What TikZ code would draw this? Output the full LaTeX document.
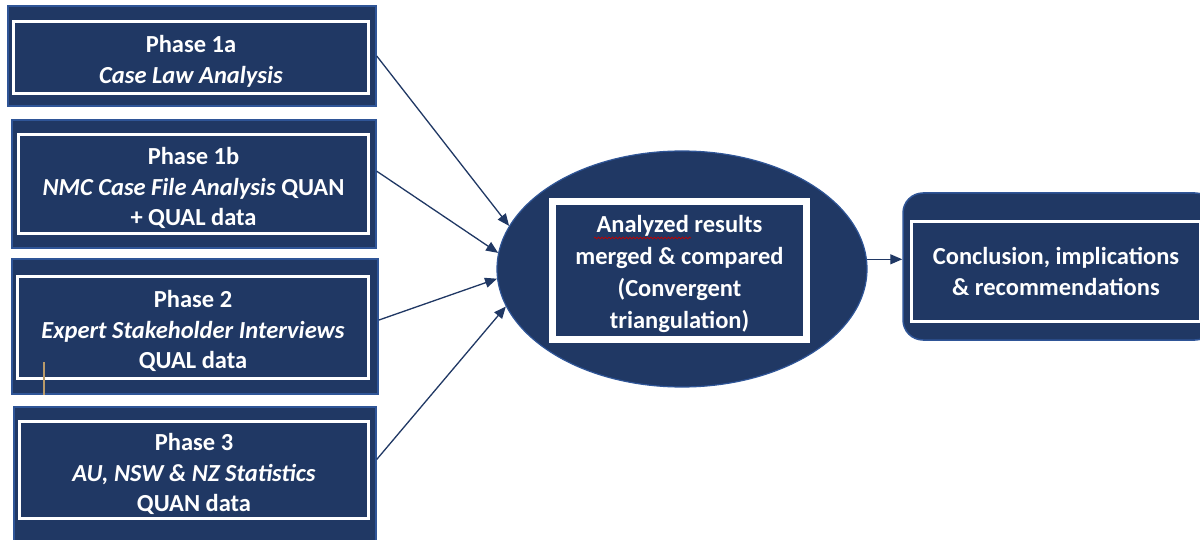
\documentclass[tikz,border=0pt]{standalone}
\usepackage{fontspec}
\setmainfont{Carlito}
\usetikzlibrary{arrows.meta,shapes.geometric,decorations.pathmorphing}
\definecolor{navy}{HTML}{203864}
\definecolor{edgeblue}{HTML}{2F5597}
\definecolor{tanline}{HTML}{B89A6A}
\newcommand{\toplift}{\rule{0pt}{24.5pt}}
\tikzset{
  outerbox/.style={draw=edgeblue, line width=1.5pt, fill=navy, inner sep=0pt},
  innerbox/.style={draw=white, line width=3pt, fill=navy, text=white, align=center, inner sep=0pt,
     font=\bfseries\fontsize{24.5}{30.5}\selectfont},
  conn/.style={draw=navy, line width=1.3pt, -{Triangle[length=12pt,width=10pt]}},
}
\begin{document}
\begin{tikzpicture}[x=1pt,y=-1pt]
\useasboundingbox (0,0) rectangle (1200,540);
\clip (0,0) rectangle (1200,540);
\fill[white] (0,0) rectangle (1200,540);

% left boxes
\node[outerbox, minimum width=368pt, minimum height=100pt] (o1a) at (192,56) {};
\node[innerbox, minimum width=355pt, minimum height=72pt] (b1a) at (191,57.5)
  {\toplift Phase 1a\\\textit{Case Law Analysis}};

\node[outerbox, minimum width=364pt, minimum height=128pt] (o1b) at (194,184) {};
\node[innerbox, minimum width=350pt, minimum height=99pt] (b1b) at (193.5,184)
  {\rule{0pt}{26pt}Phase 1b\\\textit{NMC Case File Analysis} QUAN\\+ QUAL data};

\node[outerbox, minimum width=366pt, minimum height=135pt] (o2) at (195,326.5) {};
\node[innerbox, minimum width=351pt, minimum height=102pt] (b2) at (193,327.5)
  {\toplift Phase 2\\\textit{Expert Stakeholder Interviews}\\QUAL data};

\node[outerbox, minimum width=362pt, minimum height=143pt] (o3) at (195,478.5) {};
\node[innerbox, minimum width=349pt, minimum height=97pt] (b3) at (194,470)
  {\rule{0pt}{25.5pt}Phase 3\\\textit{AU, NSW \& NZ Statistics}\\QUAN data};

\coordinate (t1) at (44,362);
\coordinate (t2) at (44,395);
\draw[tanline, line width=1.2pt] (t1) -- (t2);

% ellipse
\node[ellipse, draw=edgeblue, line width=1.2pt, fill=navy, minimum width=370pt, minimum height=236pt, inner sep=0pt] (ell) at (682,269) {};
\node[innerbox, line width=7pt, minimum width=254pt, minimum height=138pt,
      font=\bfseries\fontsize{24.5}{32}\selectfont] (bm) at (679.5,270.5)
  {\rule{0pt}{25pt}Analyzed results\\merged \& compared\\(Convergent\\triangulation)};
\coordinate (sq1) at (594,238);
\coordinate (sq2) at (691,238);
\draw[red!75!black, line width=0.7pt, decorate, decoration={snake, amplitude=0.9pt, segment length=3.5pt}] (sq1) -- (sq2);

% right box
\node[outerbox, rounded corners=20pt, minimum width=312pt, minimum height=147pt] (or) at (1059,266.5) {};
\node[innerbox, minimum width=289pt, minimum height=100pt] (br) at (1056,271.5)
  {Conclusion, implications\\\& recommendations};

% connectors
\draw[conn] (o1a.east) -- (ell.166);
\draw[conn] (o1b.4) -- (ell.175);
\draw[conn] (o2.2) -- (ell.183);
\draw[conn] (o3.6) -- (ell.192.5);
\draw[conn] (ell.3) -- (ell.3 -| or.west);
\end{tikzpicture}
\end{document}
